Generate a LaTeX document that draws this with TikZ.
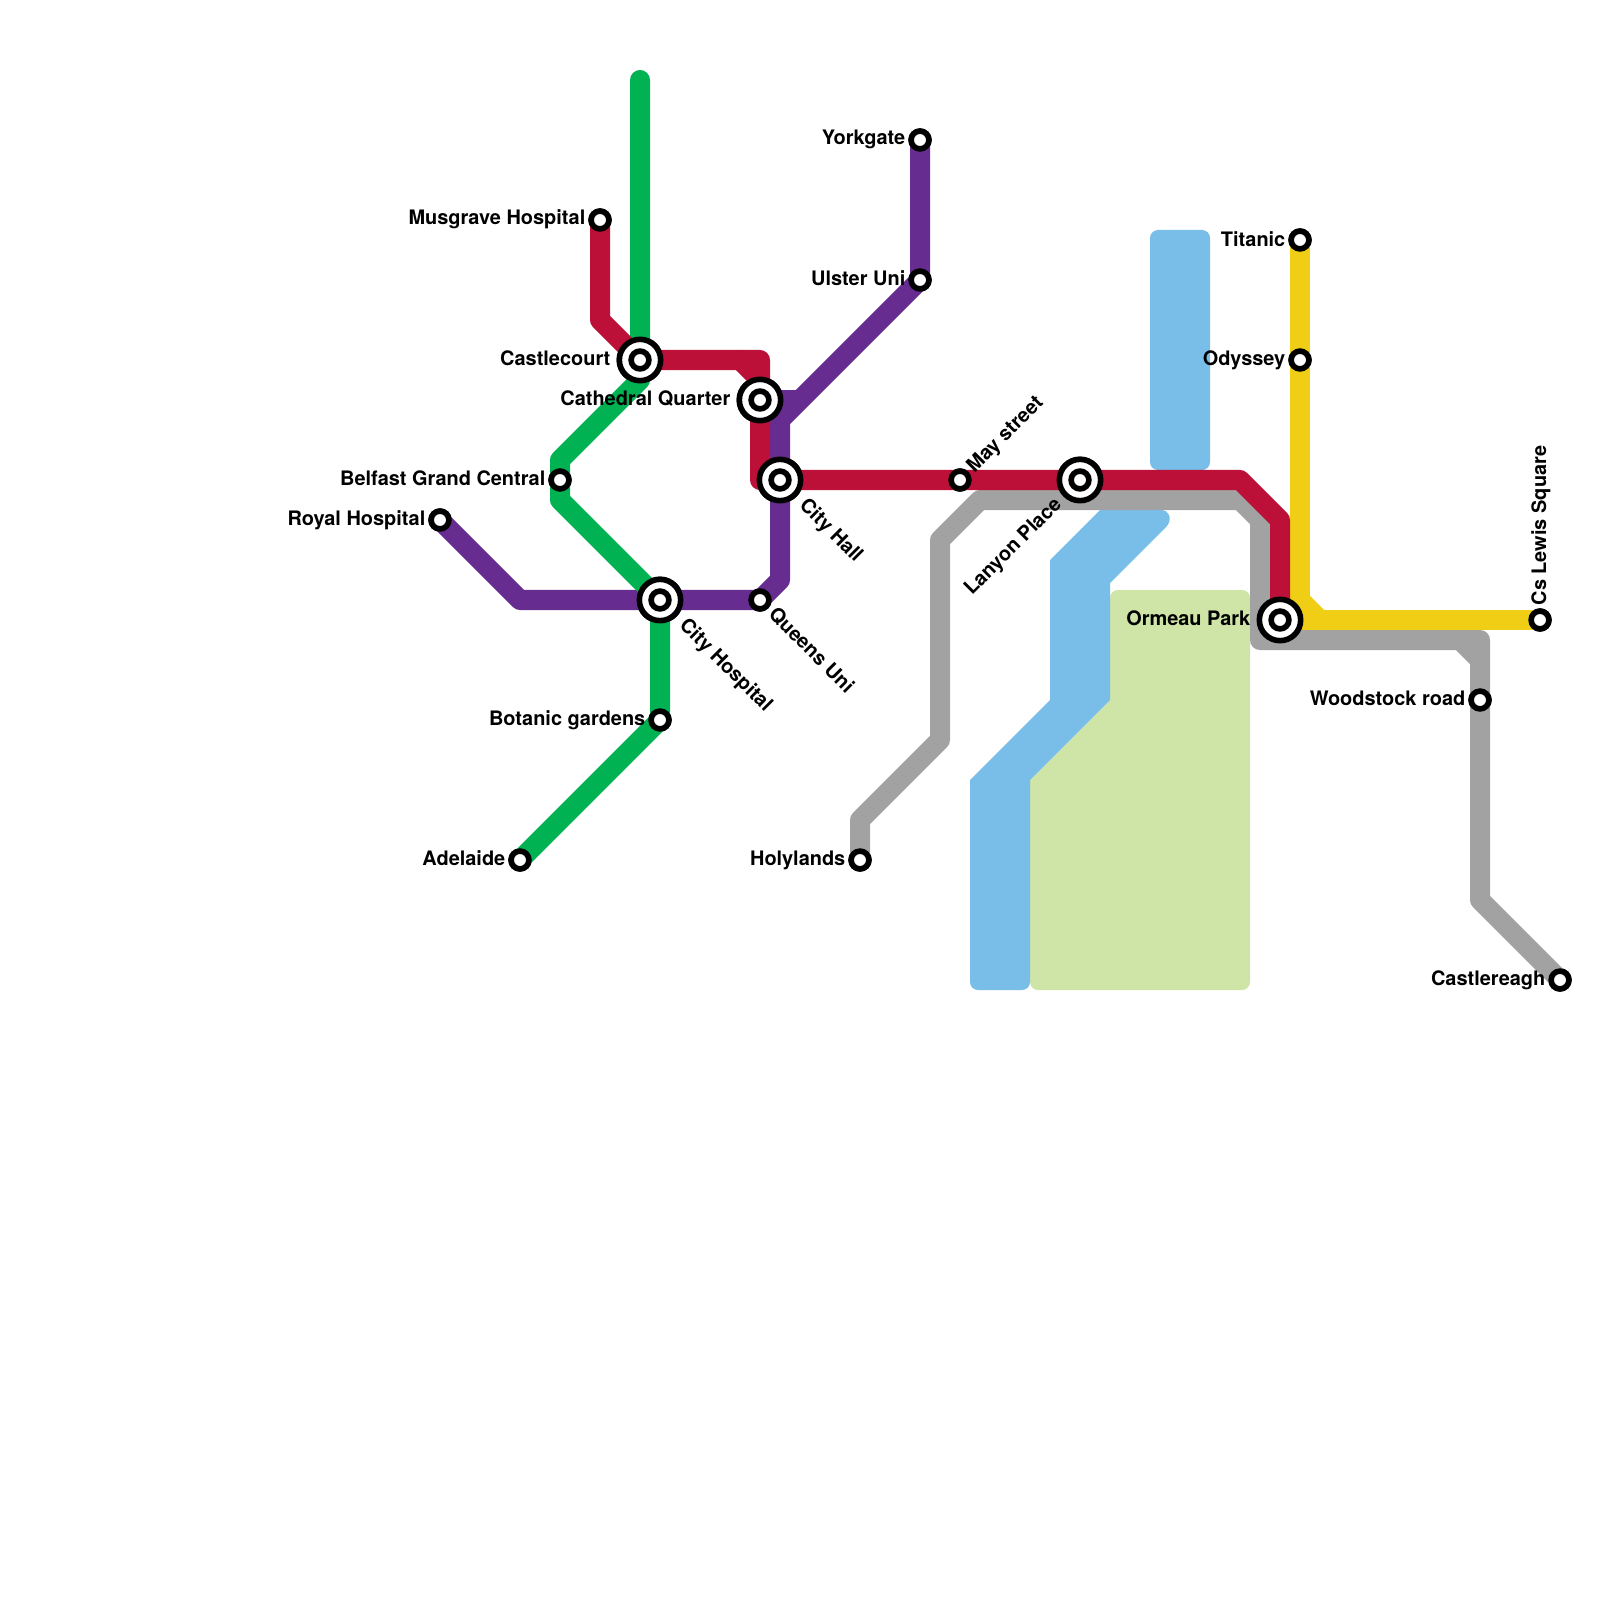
\documentclass[tikz,border=0pt]{standalone}
\usepackage{fontspec}
\setmainfont{TeX Gyre Heros}
\definecolor{redline}{HTML}{BD1038}
\definecolor{greenline}{HTML}{00B251}
\definecolor{purpleline}{HTML}{662C90}
\definecolor{greyline}{HTML}{A2A2A2}
\definecolor{yellowline}{HTML}{F0CE15}
\definecolor{water}{HTML}{79BDE9}
\definecolor{park}{HTML}{CFE4A7}
\begin{document}
\begin{tikzpicture}[x=0.01cm,y=-0.01cm]
    % --- styles ---
    \tikzstyle{metro}=[line width=2mm, line cap=round, line join=round]
    \tikzstyle{stn}=[circle, draw=black, fill=white, line width=0.56mm, inner sep=0pt, minimum size=1.78mm]
    \tikzstyle{hub}=[circle, draw=black, fill=white, line width=0.56mm, inner sep=0pt, minimum size=4.13mm]
    \tikzstyle{lbl}=[font=\fontsize{5.67}{7}\selectfont\bfseries, inner sep=0pt, text=black]

    \useasboundingbox (0,0) rectangle (1600,1600);

    % 1. park and water
    \fill[park] (1030,780) -- (1110,700) [rounded corners=0.08cm] -- (1110,590) -- (1250,590) -- (1250,990) -- (1030,990) -- (1030,780) [sharp corners] -- cycle;
    \fill[water, rounded corners=0.08cm] (1150,230) rectangle (1210,470);
    \fill[water] (1050,700) -- (1050,560) -- (1100,510) -- (1162,510) .. controls (1168,510) and (1173,518) .. (1167,526) -- (1110,583) -- (1110,700) -- (1030,780) [rounded corners=0.08cm] -- (1030,990) -- (970,990) [sharp corners] -- (970,780) -- cycle;

    % 2. stations, plain ones
    \node[stn] (musgrave) at (600,220) {};
    \node[stn] (yorkgate) at (920,140) {};
    \node[stn] (ulster) at (920,280) {};
    \node[stn] (royal) at (440,520) {};
    \node[stn] (grandcentral) at (560,480) {};
    \node[stn] (queens) at (760,600) {};
    \node[stn] (botanic) at (660,720) {};
    \node[stn] (adelaide) at (520,860) {};
    \node[stn] (holylands) at (860,860) {};
    \node[stn] (maystreet) at (960,480) {};
    \node[stn] (titanic) at (1300,240) {};
    \node[stn] (odyssey) at (1300,360) {};
    \node[stn] (cslewis) at (1540,620) {};
    \node[stn] (woodstock) at (1480,700) {};
    \node[stn] (castlereagh) at (1560,980) {};

    % 3. stations, interchanges
    \node[hub] (castlecourt) at (640,360) {};
    \node[hub] (cathedral) at (760,400) {};
    \node[hub] (cityhall) at (780,480) {};
    \node[hub] (cityhospital) at (660,600) {};
    \node[hub] (lanyon) at (1080,480) {};
    \node[hub] (ormeau) at (1280,620) {};

    % 4. bends of the lines
    \coordinate (redA) at (600,320);
    \coordinate (redB) at (760,360);
    \coordinate (redC) at (760,480);
    \coordinate (redD) at (1240,480);
    \coordinate (redE) at (1280,520);
    \coordinate (redF) at (740,360);
    \coordinate (redG) at (760,380);
    \coordinate (greenTop) at (640,80);
    \coordinate (greenA) at (640,380);
    \coordinate (greenB) at (560,460);
    \coordinate (greenC) at (560,500);
    \coordinate (purpleA) at (520,600);
    \coordinate (purpleB) at (780,580);
    \coordinate (purpleC) at (780,420);
    \coordinate (purpleD) at (796,400);
    \coordinate (greyA) at (860,820);
    \coordinate (greyB) at (940,740);
    \coordinate (greyC) at (940,540);
    \coordinate (greyD) at (980,500);
    \coordinate (greyE) at (1240,500);
    \coordinate (greyF) at (1260,520);
    \coordinate (greyG) at (1260,640);
    \coordinate (greyH) at (1480,640);
    \coordinate (greyI) at (1480,900);
    \coordinate (greyJ) at (1460,640);
    \coordinate (greyK) at (1480,660);
    \coordinate (yellowA) at (1300,620);
    \coordinate (yellowB) at (1300,600);
    \coordinate (yellowC) at (1320,620);

    % 5. the lines
    \draw[metro, greyline] (holylands.center) -- (greyA) -- (greyB) -- (greyC) -- (greyD) -- (greyE) -- (greyF) -- (greyG) -- (greyH) -- (greyI) -- (castlereagh.center);
    \draw[metro, greyline] (greyJ) -- (greyK);
    \draw[metro, yellowline] (titanic.center) -- (yellowA) -- (ormeau.center);
    \draw[metro, yellowline] (ormeau.center) -- (cslewis.center);
    \draw[metro, yellowline] (yellowB) -- (yellowC);
    \draw[metro, purpleline] (royal.center) -- (purpleA) -- (queens.center) -- (purpleB) -- (purpleC) -- (ulster.center) -- (yorkgate.center);
    \draw[metro, purpleline, line cap=butt] (cathedral.center) -- (purpleD);
    \draw[metro, greenline] (greenTop) -- (greenA) -- (greenB) -- (greenC) -- (cityhospital.center) -- (botanic.center) -- (adelaide.center);
    \draw[metro, redline] (musgrave.center) -- (redA) -- (castlecourt.center) -- (redB) -- (redC) -- (redD) -- (redE) -- (ormeau.center);
    \draw[metro, redline] (redF) -- (redG);

    % 6. stations again, over the lines
    \foreach \s in {musgrave,yorkgate,ulster,royal,grandcentral,queens,botanic,adelaide,holylands,maystreet,titanic,odyssey,cslewis,woodstock,castlereagh}
        \node[stn] at (\s) {};
    \foreach \s in {castlecourt,cathedral,cityhall,cityhospital,lanyon,ormeau} {
        \node[hub] at (\s) {};
        \node[stn] at (\s) {};
    }

    % 7. labels
    \node[lbl, anchor=base east] (musgravelbl) at (586,225) {Musgrave Hospital};
    \node[lbl, anchor=base east] (castlecourtlbl) at (611,365) {Castlecourt};
    \node[lbl, anchor=base east] (cathedrallbl) at (731,405) {Cathedral Quarter};
    \node[lbl, anchor=base east] (grandcentrallbl) at (546,485) {Belfast Grand Central};
    \node[lbl, anchor=base east] (royallbl) at (426,525) {Royal Hospital};
    \node[lbl, anchor=base east] (botaniclbl) at (646,725) {Botanic gardens};
    \node[lbl, anchor=base east] (adelaidelbl) at (506,865) {Adelaide};
    \node[lbl, anchor=base east] (holylandslbl) at (846,865) {Holylands};
    \node[lbl, anchor=base east] (yorkgatelbl) at (906,145) {Yorkgate};
    \node[lbl, anchor=base east] (ulsterlbl) at (906,285) {Ulster Uni};
    \node[lbl, anchor=base east] (titaniclbl) at (1286,246) {Titanic};
    \node[lbl, anchor=base east] (odysseylbl) at (1286,365) {Odyssey};
    \node[lbl, anchor=base east] (ormeaulbl) at (1251,625) {Ormeau Park};
    \node[lbl, anchor=base east] (woodstocklbl) at (1466,705) {Woodstock road};
    \node[lbl, anchor=base east] (castlereaghlbl) at (1546,985) {Castlereagh};
    \node[lbl, anchor=base west, rotate=-45] (cityhalllbl) at (798,506) {City Hall};
    \node[lbl, anchor=base west, rotate=-45] (cityhospitallbl) at (678,626) {City Hospital};
    \node[lbl, anchor=base west, rotate=-45] (queenslbl) at (767,615) {Queens Uni};
    \node[lbl, anchor=base west, rotate=45] (maystreetlbl) at (974,474) {May street};
    \node[lbl, anchor=base east, rotate=45] (lanyonlbl) at (1063,505) {Lanyon Place};
    \node[lbl, anchor=base west, rotate=90] (cslewislbl) at (1546,606) {Cs Lewis Square};
\end{tikzpicture}
\end{document}
